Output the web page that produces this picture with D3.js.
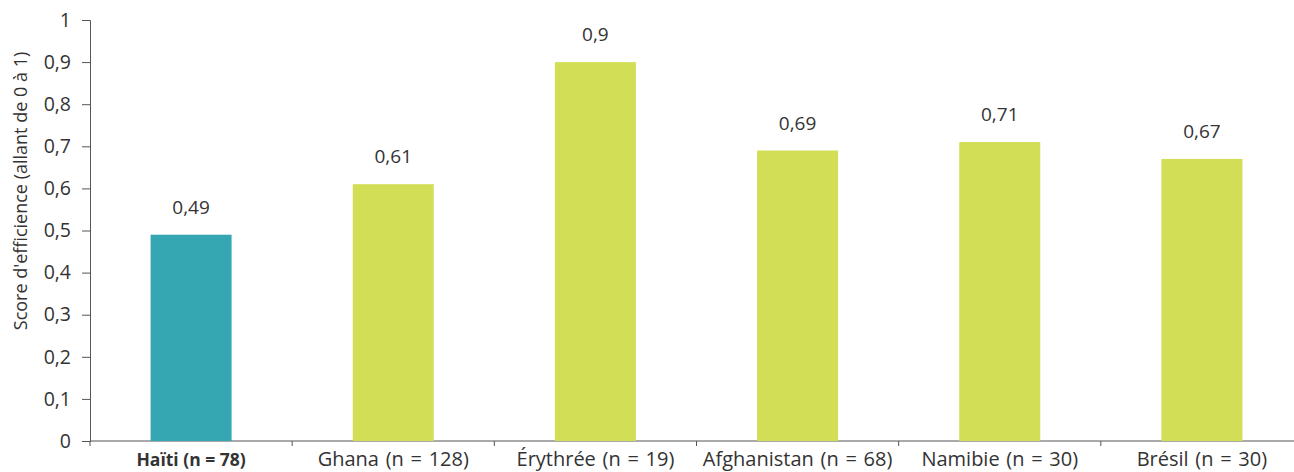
<!DOCTYPE html>
<html>
<head>
<meta charset="utf-8">
<script src="https://cdn.jsdelivr.net/npm/d3@7"></script>
<style>
  body { margin: 0; background: #fff; }
  text { font-family: "Open Sans", sans-serif; fill: #333; }
</style>
</head>
<body>
<div id="chart"></div>
<script>
let countries = ["Haïti (n = 78)", "Ghana (n = 128)", "Érythrée (n = 19)", "Afghanistan (n = 68)", "Namibie (n = 30)", "Brésil (n = 30)"];
let scores = [0.49, 0.61, 0.9, 0.69, 0.71, 0.67];
let yTicks = [0, 0.1, 0.2, 0.3, 0.4, 0.5, 0.6, 0.7, 0.8, 0.9, 1];

let width = 1294, height = 472;
let plotLeft = 90, plotRight = 1303, plotTop = 20, plotBottom = 441;

let svg = d3.select("#chart").append("svg")
    .attr("width", width)
    .attr("height", height);

let x = d3.scaleBand()
    .domain(countries)
    .range([plotLeft, plotRight]);

let y = d3.scaleLinear()
    .domain([0, 1])
    .range([plotBottom, plotTop]);

let fmt = v => String(v).replace(".", ",");

// y axis
let yAxis = svg.append("g")
    .attr("transform", `translate(${plotLeft},0)`)
    .call(d3.axisLeft(y).tickValues(yTicks).tickSize(8).tickPadding(11).tickFormat(d => d === 0 || d === 1 ? String(d) : fmt(d3.format(".1f")(d))));
yAxis.select(".domain").attr("stroke", "#555").attr("stroke-width", 1);
yAxis.selectAll(".tick line").attr("stroke", "#555");
yAxis.selectAll(".tick text").style("font-size", "19.5px").attr("fill", "#333");

// x axis line with ticks at band edges
let xAxisG = svg.append("g");
xAxisG.append("line")
    .attr("x1", plotLeft).attr("x2", width)
    .attr("y1", plotBottom).attr("y2", plotBottom)
    .attr("stroke", "#555");
let edges = countries.map(c => x(c)).concat([x(countries[countries.length - 1]) + x.step()]);
xAxisG.selectAll("line.edge")
    .data(edges)
    .enter()
    .append("line")
    .attr("class", "edge")
    .attr("x1", d => d).attr("x2", d => d)
    .attr("y1", plotBottom).attr("y2", plotBottom + 5)
    .attr("stroke", "#555");

// bars
let barW = 81;
svg.selectAll("rect.bar")
    .data(countries)
    .enter()
    .append("rect")
    .attr("class", "bar")
    .attr("x", d => x(d) + x.bandwidth() / 2 - barW / 2)
    .attr("width", barW)
    .attr("y", (d, i) => y(scores[i]))
    .attr("height", (d, i) => plotBottom - y(scores[i]))
    .attr("fill", (d, i) => i === 0 ? "#34A7B2" : "#D2DE55");

// value labels
svg.selectAll("text.val")
    .data(countries)
    .enter()
    .append("text")
    .attr("class", "val")
    .attr("x", d => x(d) + x.bandwidth() / 2)
    .attr("y", (d, i) => y(scores[i]) - 21)
    .attr("text-anchor", "middle")
    .style("font-size", "19px")
    .text((d, i) => fmt(scores[i]));

// category labels (Haïti in bold)
svg.selectAll("text.cat")
    .data(countries)
    .enter()
    .append("text")
    .attr("class", "cat")
    .attr("x", d => x(d) + x.bandwidth() / 2)
    .attr("y", 466)
    .attr("text-anchor", "middle")
    .style("font-size", (d, i) => i === 0 ? "17.5px" : "20px")
    .style("word-spacing", (d, i) => i === 0 ? "0px" : "1.5px")
    .style("font-weight", (d, i) => i === 0 ? "bold" : "normal")
    .text(d => d);

// y label
svg.append("text")
    .attr("transform", `translate(27,191) rotate(-90)`)
    .attr("text-anchor", "middle")
    .style("font-size", "18px")
    .text("Score d'efficience (allant de 0 à 1)");
</script>
</body>
</html>
